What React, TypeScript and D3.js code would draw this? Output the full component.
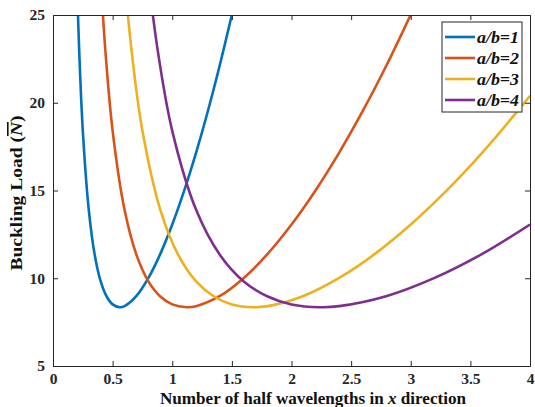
import { useEffect, useRef } from "react";
import * as d3 from "d3";

// readings: [half wavelengths, buckling load]
const ab1: [number, number][] = [
  [0.2, 27.1], [0.22, 22.9], [0.25, 18.4], [0.3, 13.9], [0.35, 11.33], [0.4, 9.82],
  [0.45, 8.96], [0.5, 8.51], [0.56, 8.35], [0.6, 8.41], [0.7, 8.99], [0.8, 10.02],
  [0.9, 11.39], [1.0, 13.06], [1.1, 14.99], [1.2, 17.16], [1.3, 19.56], [1.4, 22.18],
  [1.5, 25.02], [1.55, 26.5],
];
const ab2: [number, number][] = [
  [0.4, 27.1], [0.44, 22.9], [0.5, 18.4], [0.6, 13.9], [0.7, 11.33], [0.8, 9.82],
  [0.9, 8.96], [1.0, 8.51], [1.12, 8.35], [1.2, 8.41], [1.4, 8.99], [1.6, 10.02],
  [1.8, 11.39], [2.0, 13.06], [2.2, 14.99], [2.4, 17.16], [2.6, 19.56], [2.8, 22.18],
  [3.0, 25.02], [3.1, 26.5],
];
const ab3: [number, number][] = [
  [0.6, 27.1], [0.66, 22.9], [0.75, 18.4], [0.9, 13.9], [1.05, 11.33], [1.2, 9.82],
  [1.35, 8.96], [1.5, 8.51], [1.68, 8.35], [1.8, 8.41], [2.1, 8.99], [2.4, 10.02],
  [2.7, 11.39], [3.0, 13.06], [3.3, 14.99], [3.6, 17.16], [3.9, 19.56], [4.0, 20.4],
];
const ab4: [number, number][] = [
  [0.8, 27.1], [0.88, 22.9], [1.0, 18.4], [1.2, 13.9], [1.4, 11.33], [1.6, 9.82],
  [1.8, 8.96], [2.0, 8.51], [2.24, 8.35], [2.4, 8.41], [2.8, 8.99], [3.2, 10.02],
  [3.6, 11.39], [4.0, 13.06],
];

const seriesNames = ["a/b=1", "a/b=2", "a/b=3", "a/b=4"];
const seriesData = [ab1, ab2, ab3, ab4];
const colors = ["#0072BD", "#D95319", "#EDB120", "#7E2F8E"];
const xTicks = [0, 0.5, 1, 1.5, 2, 2.5, 3, 3.5, 4];
const yTicks = [5, 10, 15, 20, 25];

export default function App() {
  const svgRef = useRef<SVGSVGElement>(null);

  useEffect(() => {
    const svg = d3.select(svgRef.current);
    svg.selectAll("*").remove();
    const width = 535;
    const height = 407;
    const margin = { top: 15, right: 5, bottom: 41, left: 53 };
    const font = "'Liberation Serif', 'DejaVu Serif', serif";

    const x = d3.scaleLinear().domain([0, 4]).range([margin.left, width - margin.right]);
    const y = d3.scaleLinear().domain([5, 25]).range([height - margin.bottom, margin.top]);

    svg.append("defs").append("clipPath").attr("id", "plotclip")
      .append("rect")
      .attr("x", margin.left).attr("y", margin.top)
      .attr("width", width - margin.left - margin.right)
      .attr("height", height - margin.top - margin.bottom);

    const line = d3.line<[number, number]>()
      .x((d) => x(d[0]))
      .y((d) => y(d[1]))
      .curve(d3.curveCatmullRom.alpha(0.5));

    const plot = svg.append("g").attr("clip-path", "url(#plotclip)");
    seriesData.forEach((s, i) => {
      plot.append("path")
        .datum(s)
        .attr("fill", "none")
        .attr("stroke", colors[i])
        .attr("stroke-width", 2.6)
        .attr("d", line);
    });

    // axes box with ticks on all four sides
    const axisColor = "#262626";
    const bottom = svg.append("g")
      .attr("transform", `translate(0,${height - margin.bottom})`)
      .call(d3.axisBottom(x).tickValues(xTicks).tickSize(-5).tickSizeOuter(0).tickPadding(7)
        .tickFormat((d) => String(d)));
    const top = svg.append("g")
      .attr("transform", `translate(0,${margin.top})`)
      .call(d3.axisTop(x).tickValues(xTicks).tickSize(-5).tickSizeOuter(0).tickFormat(() => ""));
    const left = svg.append("g")
      .attr("transform", `translate(${margin.left},0)`)
      .call(d3.axisLeft(y).tickValues(yTicks).tickSize(-5).tickSizeOuter(0).tickPadding(8)
        .tickFormat((d) => String(d)));
    const right = svg.append("g")
      .attr("transform", `translate(${width - margin.right},0)`)
      .call(d3.axisRight(y).tickValues(yTicks).tickSize(-5).tickSizeOuter(0).tickFormat(() => ""));

    [bottom, top, left, right].forEach((g) => {
      g.select(".domain").attr("stroke", axisColor).attr("stroke-width", 1);
      g.selectAll(".tick line").attr("stroke", axisColor);
      g.selectAll(".tick text")
        .attr("fill", "#262626")
        .style("font-family", font)
        .style("font-weight", "bold")
        .style("font-size", "15.5px");
    });
    bottom.selectAll(".tick text").attr("dy", "0.71em");

    // axis labels
    const xl = svg.append("text")
      .attr("x", 313)
      .attr("y", 404)
      .attr("text-anchor", "middle")
      .attr("textLength", 306)
      .attr("lengthAdjust", "spacingAndGlyphs")
      .style("font-family", font)
      .style("font-weight", "bold")
      .style("font-size", "16px")
      .attr("fill", "#111");
    xl.append("tspan").text("Number of half wavelengths in ");
    xl.append("tspan").style("font-style", "italic").text("x");
    xl.append("tspan").text(" direction");

    const yl = svg.append("text")
      .attr("transform", `translate(22,193) rotate(-90)`)
      .attr("text-anchor", "middle")
      .attr("textLength", 155)
      .attr("lengthAdjust", "spacingAndGlyphs")
      .style("font-family", font)
      .style("font-weight", "bold")
      .style("font-size", "16px")
      .attr("fill", "#111");
    yl.append("tspan").text("Buckling Load (");
    yl.append("tspan").style("font-style", "italic").style("text-decoration", "overline").text("N");
    yl.append("tspan").text(")");

    // legend
    const lg = svg.append("g").attr("transform", "translate(442,22)");
    lg.append("rect")
      .attr("width", 80).attr("height", 90)
      .attr("fill", "#fff").attr("stroke", "#262626").attr("stroke-width", 1);
    seriesNames.forEach((name, i) => {
      const cy = 15 + i * 21;
      lg.append("line")
        .attr("x1", 3).attr("x2", 33).attr("y1", cy).attr("y2", cy)
        .attr("stroke", colors[i]).attr("stroke-width", 2.6);
      lg.append("text")
        .attr("x", 35).attr("y", cy).attr("dy", "0.35em")
        .attr("textLength", 42)
        .attr("lengthAdjust", "spacingAndGlyphs")
        .style("font-family", font)
        .style("font-weight", "bold")
        .style("font-style", "italic")
        .style("font-size", "17px")
        .attr("fill", "#111")
        .text(name);
    });
  }, []);

  return (
    <div style={{ position: "absolute", left: 0, top: 0 }}>
      <svg ref={svgRef} width={535} height={407} style={{ display: "block", background: "#fff" }}></svg>
    </div>
  );
}
